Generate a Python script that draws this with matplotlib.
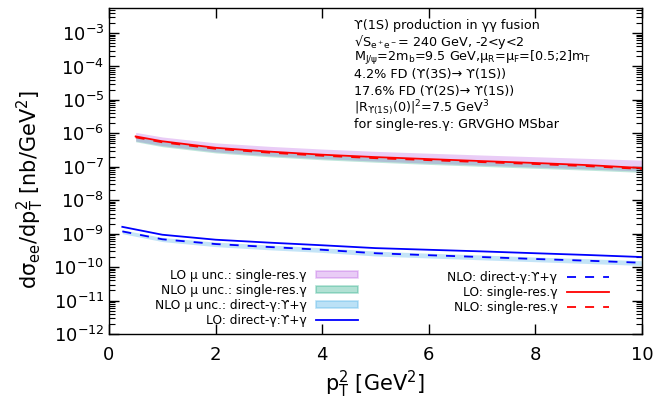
import numpy as np
import matplotlib
matplotlib.use("Agg")
import matplotlib.pyplot as plt
from matplotlib.patches import Patch
from matplotlib.lines import Line2D

plt.rcParams["mathtext.default"] = "regular"
plt.rcParams["font.family"] = ["DejaVu Sans"]

# --- single-resolved photon (red / purple / green) ---
x_sr = [0.5, 1, 2, 3, 4, 5, 6, 7, 8, 9, 10]
lo_sr = [8.1e-7, 5.8e-7, 3.7e-7, 2.85e-7, 2.3e-7, 1.95e-7, 1.7e-7, 1.48e-7, 1.3e-7, 1.12e-7, 9.2e-8]
nlo_sr = [7.6e-7, 5.4e-7, 3.45e-7, 2.65e-7, 2.14e-7, 1.81e-7, 1.58e-7, 1.38e-7, 1.21e-7, 1.04e-7, 8.6e-8]
lo_sr_hi = [1.07e-6, 7.8e-7, 5.2e-7, 4.1e-7, 3.4e-7, 2.9e-7, 2.55e-7, 2.25e-7, 2.0e-7, 1.78e-7, 1.58e-7]
lo_sr_lo = [5.9e-7, 4.3e-7, 2.8e-7, 2.15e-7, 1.75e-7, 1.48e-7, 1.28e-7, 1.12e-7, 9.8e-8, 8.6e-8, 7.4e-8]
nlo_sr_hi = [8.0e-7, 5.7e-7, 3.65e-7, 2.8e-7, 2.25e-7, 1.9e-7, 1.65e-7, 1.45e-7, 1.27e-7, 1.1e-7, 9.0e-8]
nlo_sr_lo = [5.6e-7, 4.0e-7, 2.6e-7, 2.0e-7, 1.62e-7, 1.37e-7, 1.18e-7, 1.03e-7, 9.0e-8, 7.9e-8, 6.8e-8]

# --- direct photon (blue) ---
x_dir = [0.25, 1, 2, 3, 4, 5, 6, 7, 8, 9, 10]
lo_dir = [1.6e-9, 9.3e-10, 6.6e-10, 5.4e-10, 4.5e-10, 3.7e-10, 3.3e-10, 2.95e-10, 2.6e-10, 2.3e-10, 2.0e-10]
nlo_dir = [1.17e-9, 6.8e-10, 4.9e-10, 4.0e-10, 3.3e-10, 2.6e-10, 2.27e-10, 2.0e-10, 1.75e-10, 1.55e-10, 1.35e-10]
nlo_dir_hi = [1.3e-9, 7.7e-10, 5.6e-10, 4.6e-10, 3.8e-10, 3.0e-10, 2.6e-10, 2.3e-10, 2.0e-10, 1.78e-10, 1.55e-10]
nlo_dir_lo = [1.0e-9, 5.8e-10, 4.1e-10, 3.3e-10, 2.75e-10, 2.15e-10, 1.88e-10, 1.65e-10, 1.45e-10, 1.28e-10, 1.12e-10]

purple = "#9400d3"
green = "#009e73"
lblue = "#56b4e9"

fig = plt.figure(figsize=(6.55, 4.08), dpi=100)
ax = fig.add_axes([0.1664, 0.1814, 0.8136, 0.7983])

ax.fill_between(x_sr, lo_sr_lo, lo_sr_hi, color=purple, alpha=0.2, lw=0)
ax.fill_between(x_sr, nlo_sr_lo, nlo_sr_hi, color=green, alpha=0.25, lw=0)
ax.fill_between(x_dir, nlo_dir_lo, nlo_dir_hi, color=lblue, alpha=0.35, lw=0)

ax.plot(x_dir, lo_dir, color="#0000ff", lw=1.3)
ax.plot(x_dir, nlo_dir, color="#0000ff", lw=1.3, ls=(0, (5, 5)))
ax.plot(x_sr, lo_sr, color="#ff0000", lw=1.3)
ax.plot(x_sr, nlo_sr, color="#ff0000", lw=1.3, ls=(0, (5, 5)))

ax.set_yscale("log")
ax.set_xlim(0, 10)
ax.set_ylim(1e-12, 5.5e-3)
ax.set_xticks([0, 2, 4, 6, 8, 10])
ax.set_yticks([10.0 ** k for k in range(-12, -2)])
ax.yaxis.set_minor_locator(matplotlib.ticker.LogLocator(base=10, subs=np.arange(2, 10), numticks=20))
ax.yaxis.set_minor_formatter(matplotlib.ticker.NullFormatter())
ax.tick_params(which="both", direction="in", top=True, right=True, labelsize=13)
ax.tick_params(which="major", length=7, width=1)
ax.tick_params(which="minor", length=4, width=0.8)
ax.tick_params(axis="x", pad=9)
for s in ax.spines.values():
    s.set_linewidth(1)

ax.set_xlabel(r"p$_T^2$ [GeV$^2$]", fontsize=15, labelpad=3)
ax.set_ylabel(r"d$\sigma_{ee}$/dp$_T^2$ [nb/GeV$^2$]", fontsize=15)
ax.yaxis.set_label_coords(-0.118, 0.445)

info = [
    "ϒ(1S) production in γγ fusion",
    "√S$_{e^+e^-}$= 240 GeV, -2<y<2",
    r"M$_{J/\psi}$=2m$_b$=9.5 GeV,μ$_R$=μ$_F$=[0.5;2]m$_T$",
    "4.2% FD (ϒ(3S)→ ϒ(1S))",
    "17.6% FD (ϒ(2S)→ ϒ(1S))",
    r"|R$_{ϒ(1S)}$(0)|$^2$=7.5 GeV$^3$",
    "for single-res.γ: GRVGHO MSbar",
]
for i, line in enumerate(info):
    ax.text(0.459, 0.947 - i * 0.0505, line, transform=ax.transAxes,
            fontsize=9.2, va="center", ha="left")

h_left = [
    Patch(facecolor=purple, alpha=0.2, edgecolor=purple, lw=1.2),
    Patch(facecolor=green, alpha=0.3, edgecolor=green, lw=1.2),
    Patch(facecolor=lblue, alpha=0.4, edgecolor=lblue, lw=1.2),
    Line2D([], [], color="#0000ff", lw=1.3),
]
l_left = ["LO μ unc.: single-res.γ", "NLO μ unc.: single-res.γ",
          "NLO μ unc.: direct-γ:ϒ+γ", "LO: direct-γ:ϒ+γ"]
h_right = [
    Line2D([], [], color="#0000ff", lw=1.3, ls=(0, (5, 5))),
    Line2D([], [], color="#ff0000", lw=1.3),
    Line2D([], [], color="#ff0000", lw=1.3, ls=(0, (5, 5))),
]
l_right = ["NLO: direct-γ:ϒ+γ", "LO: single-res.γ", "NLO: single-res.γ"]

leg_kw = dict(markerfirst=False, frameon=False, fontsize=8.8, handlelength=3.45,
              handleheight=0.5, labelspacing=0.15, handletextpad=0.75, borderpad=0)
leg1 = ax.legend(h_left, l_left, loc="upper right", bbox_to_anchor=(0.4784, 0.218), **leg_kw)
ax.add_artist(leg1)
ax.legend(h_right, l_right, loc="upper right", bbox_to_anchor=(0.9493, 0.211), **leg_kw)

fig.savefig("out.png", dpi=100)
